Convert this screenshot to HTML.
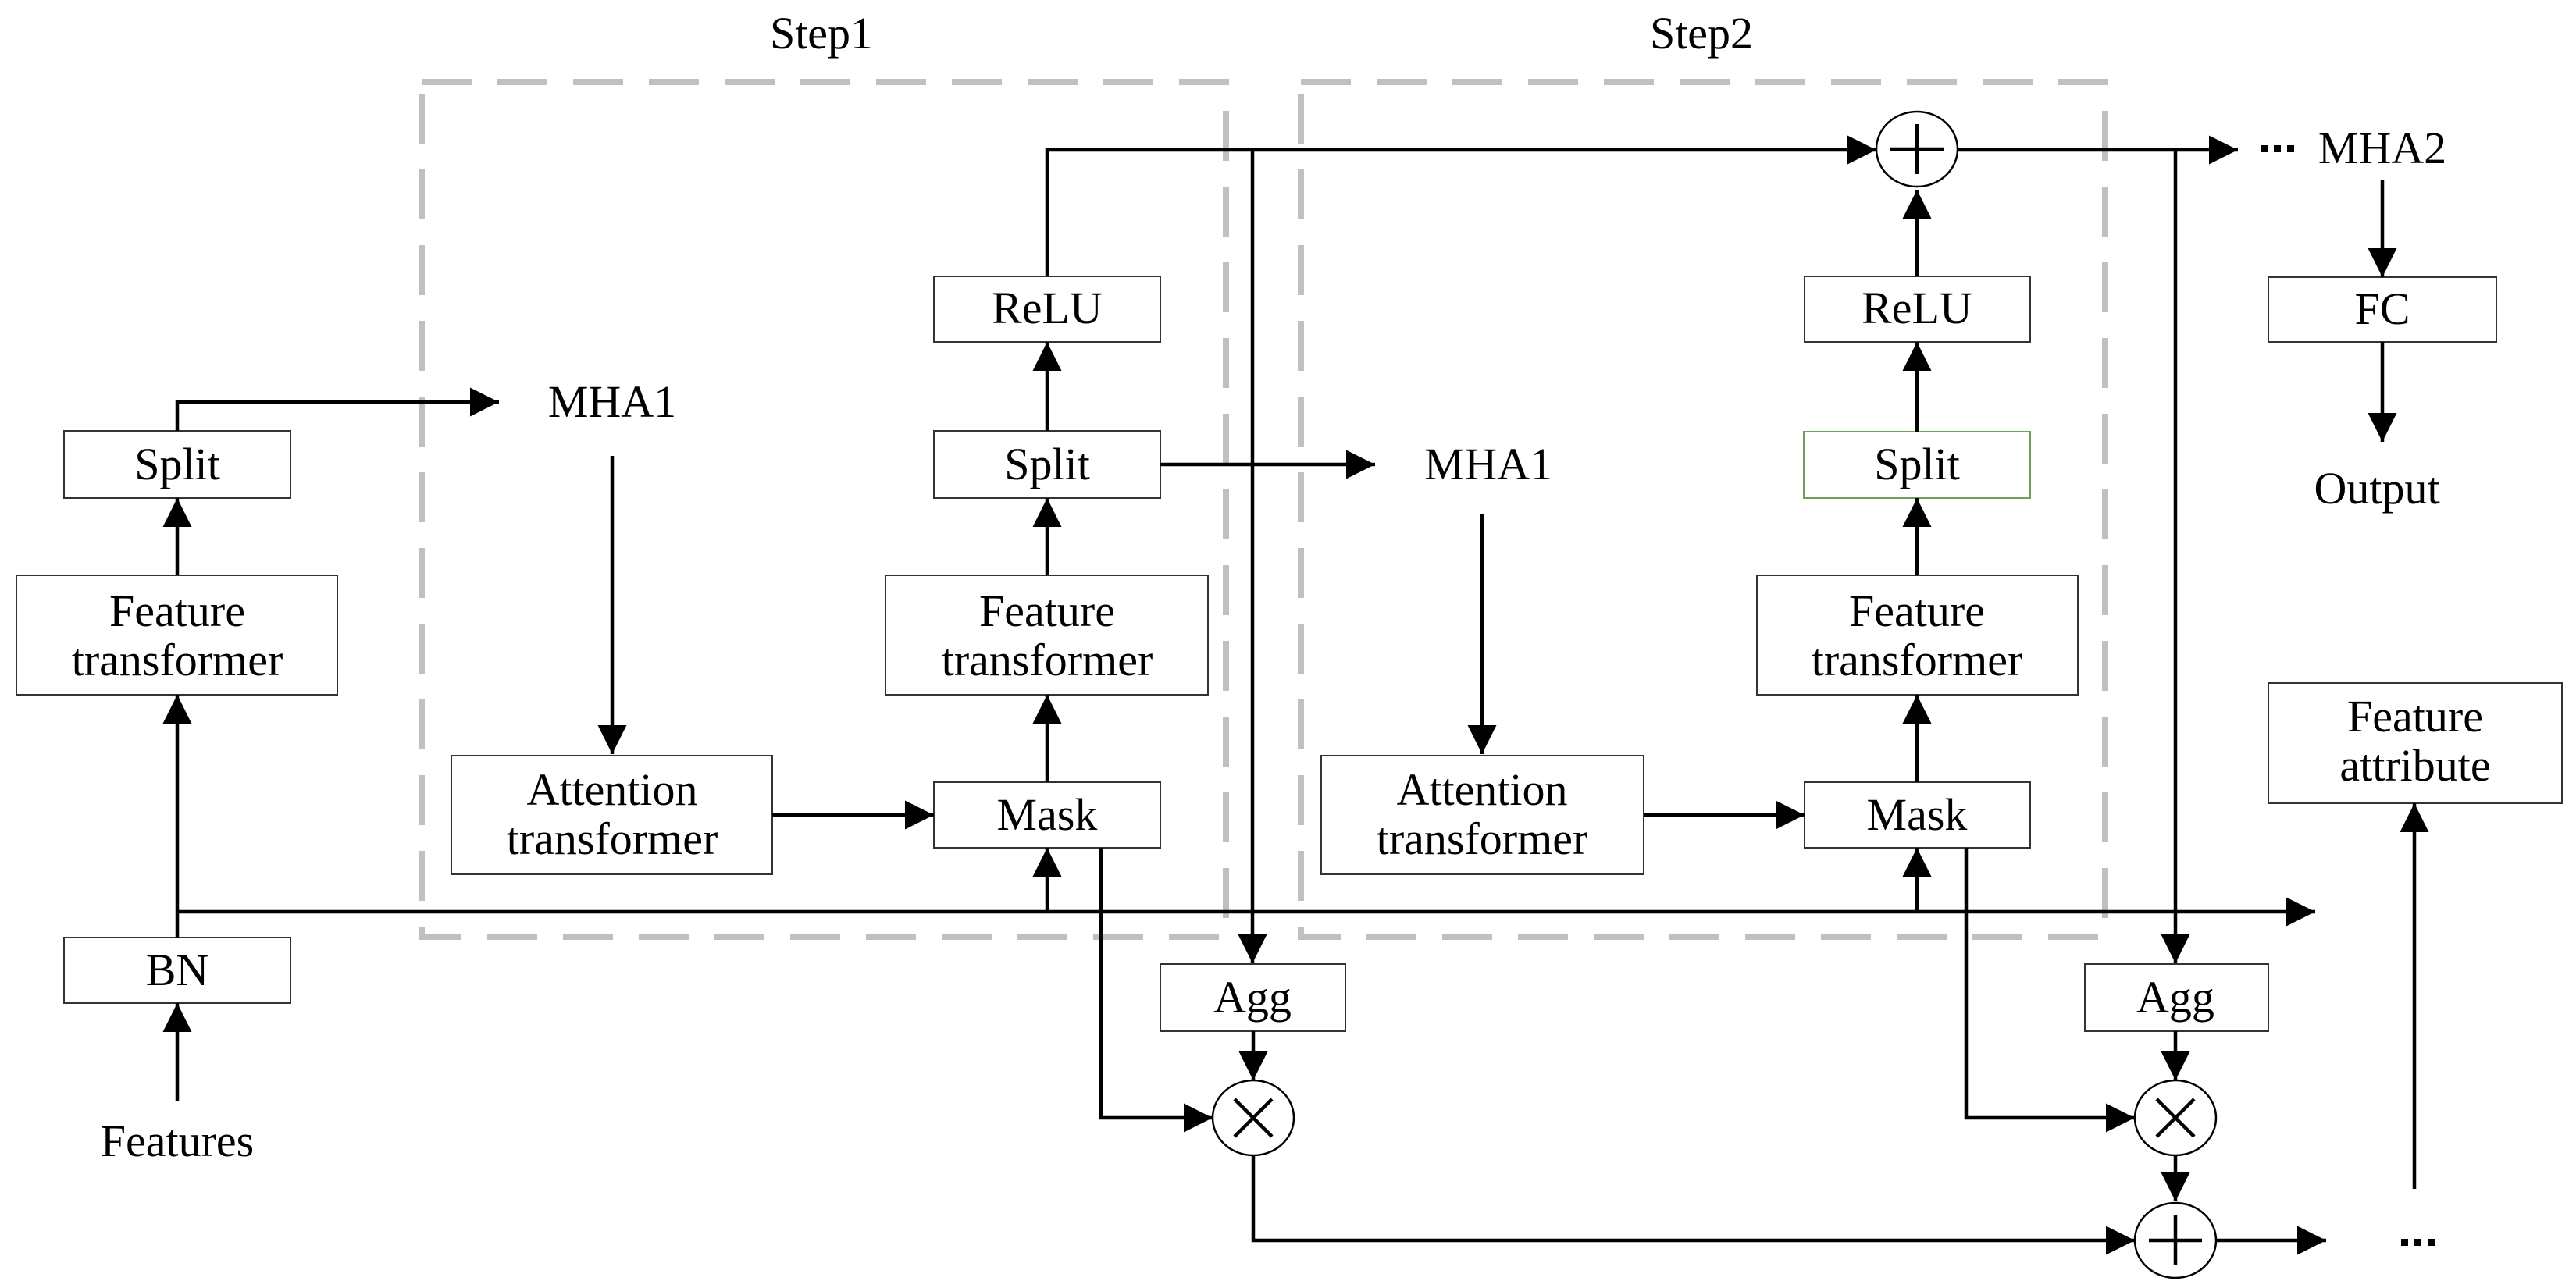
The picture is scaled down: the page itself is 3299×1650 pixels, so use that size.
<!DOCTYPE html>
<html><head><meta charset="utf-8">
<style>
html,body{margin:0;padding:0;background:#fff;}
svg{display:block;}
text{font-family:"Liberation Serif",serif;font-size:58px;fill:#000;text-anchor:middle;}
</style></head>
<body>
<svg width="3299" height="1650" viewBox="0 0 3299 1650" xmlns="http://www.w3.org/2000/svg">
<defs>
<marker id="a" markerUnits="userSpaceOnUse" markerWidth="38" markerHeight="38" refX="37" refY="18.5" orient="auto">
<path d="M0,0 L37,18.5 L0,37 z" fill="#000"/>
</marker>
</defs>
<g fill="none" stroke="#c0c0c0" stroke-width="8" stroke-dasharray="64 33">
<rect x="540" y="105" width="1030" height="1095"/>
<rect x="1666" y="105" width="1030" height="1095"/>
</g>
<g fill="#fff" stroke="#333" stroke-width="2">
<rect x="82" y="552" width="290" height="86"/>
<rect x="21" y="737" width="411" height="153"/>
<rect x="82" y="1201" width="290" height="84"/>
<rect x="578" y="968" width="411" height="152"/>
<rect x="1196" y="1002" width="290" height="84"/>
<rect x="1134" y="737" width="413" height="153"/>
<rect x="1196" y="552" width="290" height="86"/>
<rect x="1196" y="354" width="290" height="84"/>
<rect x="1486" y="1235" width="237" height="86"/>
<rect x="1692" y="968" width="413" height="152"/>
<rect x="2311" y="1002" width="289" height="84"/>
<rect x="2250" y="737" width="411" height="153"/>
<rect x="2311" y="354" width="289" height="84"/>
<rect x="2670" y="1235" width="235" height="86"/>
<rect x="2905" y="355" width="292" height="83"/>
<rect x="2905" y="875" width="376" height="154"/>
</g>
<rect x="2310" y="553" width="290" height="85" fill="#fff" stroke="#70a060" stroke-width="2"/>
<g fill="#fff" stroke="#000" stroke-width="2.5">
<ellipse cx="2455" cy="191" rx="52" ry="48"/>
<ellipse cx="1605" cy="1432" rx="52" ry="48"/>
<ellipse cx="2786" cy="1432" rx="52" ry="48"/>
<ellipse cx="2786" cy="1589" rx="52" ry="48"/>
</g>
<g stroke="#000" stroke-width="4.5" fill="none">
<path d="M2421,191 H2489 M2455,159 V223"/>
<path d="M2752,1589 H2820 M2786,1557 V1621"/>
<path d="M1581,1408 L1629,1456 M1629,1408 L1581,1456"/>
<path d="M2762,1408 L2810,1456 M2810,1408 L2762,1456"/>
</g>
<g stroke="#000" stroke-width="4.5" fill="none" marker-end="url(#a)">
<path d="M227,1410 V1285"/>
<path d="M227,1201 V890"/>
<path d="M227,1168 H2965"/>
<path d="M227,737 V638"/>
<path d="M227,552 V515 H639"/>
<path d="M784,584 V966"/>
<path d="M989,1044 H1196"/>
<path d="M1341,1168 V1086"/>
<path d="M1341,1002 V890"/>
<path d="M1341,737 V638"/>
<path d="M1341,552 V438"/>
<path d="M1341,354 V192 H2403"/>
<path d="M1604,192 V1234"/>
<path d="M1605,1321 V1384"/>
<path d="M1410,1086 V1432 H1553"/>
<path d="M1605,1480 V1589 H2734"/>
<path d="M1486,595 H1761"/>
<path d="M1898,658 V966"/>
<path d="M2105,1044 H2311"/>
<path d="M2455,1168 V1086"/>
<path d="M2455,1002 V890"/>
<path d="M2455,737 V638"/>
<path d="M2455,553 V438"/>
<path d="M2455,354 V243"/>
<path d="M2507,192 H2866"/>
<path d="M2786,192 V1234"/>
<path d="M2786,1321 V1384"/>
<path d="M2786,1480 V1539"/>
<path d="M2518,1086 V1432 H2734"/>
<path d="M2838,1589 H2979"/>
<path d="M3051,230 V355"/>
<path d="M3051,438 V566"/>
<path d="M3092,1523 V1029"/>
</g>
<g fill="#000">
<rect x="2895" y="186" width="9" height="9"/><rect x="2912" y="186" width="9" height="9"/><rect x="2929" y="186" width="9" height="9"/>
<rect x="3075" y="1587" width="9" height="9"/><rect x="3092" y="1587" width="9" height="9"/><rect x="3109" y="1587" width="9" height="9"/>
</g>
<text x="1052" y="62">Step1</text>
<text x="2179" y="62">Step2</text>
<text x="227" y="614">Split</text>
<text x="227" y="802">Feature</text>
<text x="227" y="865">transformer</text>
<text x="227" y="1262">BN</text>
<text x="227" y="1481">Features</text>
<text x="784" y="534">MHA1</text>
<text x="784" y="1031">Attention</text>
<text x="784" y="1094">transformer</text>
<text x="1341" y="1063">Mask</text>
<text x="1341" y="802">Feature</text>
<text x="1341" y="865">transformer</text>
<text x="1341" y="614">Split</text>
<text x="1341" y="414">ReLU</text>
<text x="1604" y="1297">Agg</text>
<text x="1906" y="614">MHA1</text>
<text x="1898" y="1031">Attention</text>
<text x="1898" y="1094">transformer</text>
<text x="2455" y="1063">Mask</text>
<text x="2455" y="802">Feature</text>
<text x="2455" y="865">transformer</text>
<text x="2455" y="614">Split</text>
<text x="2455" y="414">ReLU</text>
<text x="2786" y="1297">Agg</text>
<text x="3051" y="209">MHA2</text>
<text x="3051" y="415">FC</text>
<text x="3044" y="645">Output</text>
<text x="3093" y="937">Feature</text>
<text x="3093" y="1000">attribute</text>
</svg>
</body></html>
